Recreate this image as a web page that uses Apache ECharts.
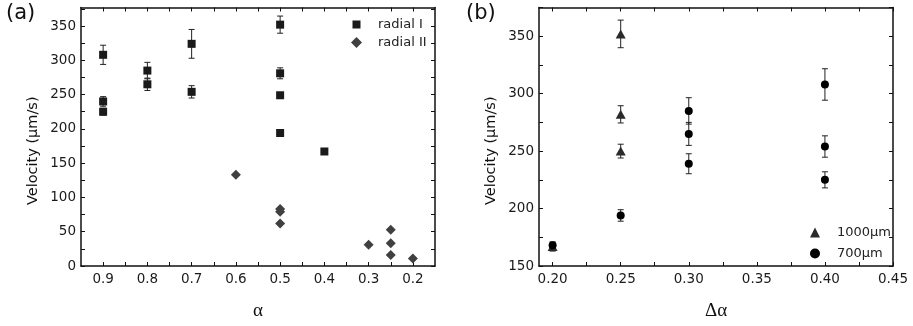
<!DOCTYPE html>
<html>
<head>
<meta charset="utf-8">
<script src="https://cdn.jsdelivr.net/npm/echarts@6/dist/echarts.min.js"></script>
<style>
  html, body { margin: 0; padding: 0; background: #fff; }
  #chart { width: 913px; height: 326px; }
</style>
</head>
<body>
<div id="chart"></div>
<script>
// panel (a): velocity vs alpha
const radialIAlpha = [0.9, 0.9, 0.9, 0.8, 0.8, 0.7, 0.7, 0.5, 0.5, 0.5, 0.5, 0.4];
const radialIVel = [308, 240, 225, 285, 265, 324, 254, 352, 281, 249, 194, 167];
const radialIErr = [14, 7, 5, 12, 9, 21, 9, 12.5, 8, 3, 2, 2];
const radialIIAlpha = [0.6, 0.5, 0.5, 0.5, 0.3, 0.25, 0.25, 0.25, 0.2];
const radialIIVel = [133, 83, 79, 62, 31, 53, 33, 16, 11];

// panel (b): velocity vs delta alpha
const d1000Delta = [0.2, 0.25, 0.25, 0.25];
const d1000Vel = [167, 352, 282, 250];
const d1000Err = [4, 12, 7.5, 6];
const d700Delta = [0.2, 0.25, 0.3, 0.3, 0.3, 0.4, 0.4, 0.4];
const d700Vel = [168, 194, 285, 265, 239, 308, 254, 225];
const d700Err = [2, 5, 11.5, 10, 8.7, 13.7, 9.3, 7];

// ticks and labels
const aXLabels = [0.9, 0.8, 0.7, 0.6, 0.5, 0.4, 0.3, 0.2];
const aXTicks = [0.9, 0.85, 0.8, 0.75, 0.7, 0.65, 0.6, 0.55, 0.5, 0.45, 0.4, 0.35, 0.3, 0.25, 0.2];
const aYLabels = [0, 50, 100, 150, 200, 250, 300, 350];
const aYTicks = [0, 25, 50, 75, 100, 125, 150, 175, 200, 225, 250, 275, 300, 325, 350, 375];
const bXLabels = [0.2, 0.25, 0.3, 0.35, 0.4, 0.45];
const bXTicks = [0.2, 0.225, 0.25, 0.275, 0.3, 0.325, 0.35, 0.375, 0.4, 0.425, 0.45];
const bYLabels = [150, 200, 250, 300, 350];
const bYTicks = [150, 175, 200, 225, 250, 275, 300, 325, 350, 375];

const font = 'DejaVu Sans';
const ink = '#111';
// legend square drawn a bit smaller than its 11px box, like the diamond next to it
const smallSquare = 'path://M0,0M11,11M1.5,1.5L9.5,1.5L9.5,9.5L1.5,9.5Z';

function errData(xs, ys, es) {
    return ys.map((y, i) => [xs[i], y - es[i], y + es[i]]);
}

function renderErrorBar(params, api) {
    const x = api.value(0);
    const top = api.coord([x, api.value(2)]);
    const bot = api.coord([x, api.value(1)]);
    const half = 3;
    const style = { stroke: '#222', lineWidth: 1 };
    return {
        type: 'group',
        children: [
            { type: 'line', shape: { x1: top[0], y1: top[1], x2: bot[0], y2: bot[1] }, style },
            { type: 'line', shape: { x1: top[0] - half, y1: top[1], x2: top[0] + half, y2: top[1] }, style },
            { type: 'line', shape: { x1: bot[0] - half, y1: bot[1], x2: bot[0] + half, y2: bot[1] }, style },
        ],
    };
}

function xAxis(gridIndex, min, max, ticks, labels, digits, inverse, name, mirror) {
    return {
        type: 'value',
        gridIndex,
        position: mirror ? 'top' : 'bottom',
        min,
        max,
        inverse,
        name: mirror ? '' : name,
        nameLocation: 'middle',
        nameGap: 36,
        nameTextStyle: { fontFamily: 'Liberation Serif', fontSize: 19, color: ink },
        splitLine: { show: false },
        axisLine: { show: true, onZero: false, lineStyle: { color: ink, width: 1.5 } },
        axisTick: { show: true, inside: true, length: 4, customValues: ticks, lineStyle: { color: ink } },
        axisLabel: {
            show: !mirror,
            customValues: labels,
            margin: 6,
            fontFamily: font,
            fontSize: 13.5,
            color: '#1a1a1a',
            formatter: (v) => v.toFixed(digits),
        },
    };
}

function yAxis(gridIndex, min, max, ticks, labels, mirror) {
    return {
        type: 'value',
        gridIndex,
        position: mirror ? 'right' : 'left',
        min,
        max,
        name: mirror ? '' : 'Velocity (\u03bcm/s)',
        nameLocation: 'middle',
        nameGap: 40,
        nameTextStyle: { fontFamily: font, fontSize: 14.5, color: ink, padding: [0, 28, 0, 0] },
        splitLine: { show: false },
        axisLine: { show: true, onZero: false, lineStyle: { color: ink, width: 1.5 } },
        axisTick: { show: true, inside: true, length: 4, customValues: ticks, lineStyle: { color: ink } },
        axisLabel: {
            show: !mirror,
            customValues: labels,
            margin: 5,
            fontFamily: font,
            fontSize: 13.5,
            color: '#1a1a1a',
        },
    };
}

const chart = echarts.init(document.getElementById('chart'));

chart.setOption({
    animation: false,
    backgroundColor: '#fff',
    grid: [
        { left: 81, top: 7.5, width: 354, height: 264 },
        { left: 539, top: 7.5, width: 354, height: 264 },
    ],
    graphic: [
        { type: 'text', left: 6, top: 3, style: { text: '(a)', fontFamily: font, fontSize: 21, fill: ink } },
        { type: 'text', left: 466, top: 3, style: { text: '(b)', fontFamily: font, fontSize: 21, fill: ink } },
    ],
    legend: [
        {
            left: 351,
            top: 18,
            orient: 'vertical',
            padding: 0,
            itemGap: 5,
            itemWidth: 11,
            itemHeight: 11,
            textStyle: { fontFamily: font, fontSize: 13, color: '#222', padding: [0, 0, 0, 11] },
            data: [
                { name: 'radial I', icon: smallSquare },
                { name: 'radial II', icon: 'diamond' },
            ],
        },
        {
            left: 810,
            top: 226,
            orient: 'vertical',
            padding: 0,
            itemGap: 8,
            itemWidth: 10,
            itemHeight: 10,
            textStyle: { fontFamily: font, fontSize: 13, color: '#222', padding: [0, 0, 0, 12] },
            data: [
                { name: '1000\u03bcm', icon: 'triangle' },
                { name: '700\u03bcm', icon: 'circle' },
            ],
        },
    ],
    xAxis: [
        xAxis(0, 0.15, 0.95, aXTicks, aXLabels, 1, true, '\u03b1', false),
        xAxis(0, 0.15, 0.95, aXTicks, aXLabels, 1, true, '', true),
        xAxis(1, 0.19, 0.45, bXTicks, bXLabels, 2, false, '\u0394\u03b1', false),
        xAxis(1, 0.19, 0.45, bXTicks, bXLabels, 2, false, '', true),
    ],
    yAxis: [
        yAxis(0, 0, 377, aYTicks, aYLabels, false),
        yAxis(0, 0, 377, aYTicks, aYLabels, true),
        yAxis(1, 150, 375, bYTicks, bYLabels, false),
        yAxis(1, 150, 375, bYTicks, bYLabels, true),
    ],
    series: [
        {
            name: 'errA',
            type: 'custom',
            xAxisIndex: 0,
            yAxisIndex: 0,
            renderItem: renderErrorBar,
            encode: { x: 0, y: [1, 2] },
            data: errData(radialIAlpha, radialIVel, radialIErr),
            z: 1,
        },
        {
            name: 'radial I',
            type: 'scatter',
            xAxisIndex: 0,
            yAxisIndex: 0,
            symbol: 'rect',
            symbolSize: 8,
            itemStyle: { color: '#1a1a1a', opacity: 1 },
            data: radialIAlpha.map((a, i) => [a, radialIVel[i]]),
            z: 3,
        },
        {
            name: 'radial II',
            type: 'scatter',
            xAxisIndex: 0,
            yAxisIndex: 0,
            symbol: 'diamond',
            symbolSize: 10,
            itemStyle: { color: '#404040', opacity: 1 },
            data: radialIIAlpha.map((a, i) => [a, radialIIVel[i]]),
            z: 3,
        },
        {
            name: 'errB1000',
            type: 'custom',
            xAxisIndex: 2,
            yAxisIndex: 2,
            renderItem: renderErrorBar,
            encode: { x: 0, y: [1, 2] },
            data: errData(d1000Delta, d1000Vel, d1000Err),
            z: 1,
        },
        {
            name: 'errB700',
            type: 'custom',
            xAxisIndex: 2,
            yAxisIndex: 2,
            renderItem: renderErrorBar,
            encode: { x: 0, y: [1, 2] },
            data: errData(d700Delta, d700Vel, d700Err),
            z: 1,
        },
        {
            name: '1000\u03bcm',
            type: 'scatter',
            xAxisIndex: 2,
            yAxisIndex: 2,
            symbol: 'triangle',
            symbolSize: [10, 9],
            itemStyle: { color: '#2a2a2a', opacity: 1 },
            data: d1000Delta.map((d, i) => [d, d1000Vel[i]]),
            z: 3,
        },
        {
            name: '700\u03bcm',
            type: 'scatter',
            xAxisIndex: 2,
            yAxisIndex: 2,
            symbol: 'circle',
            symbolSize: 8,
            itemStyle: { color: '#000', opacity: 1 },
            data: d700Delta.map((d, i) => [d, d700Vel[i]]),
            z: 3,
        },
    ],
});
</script>
</body>
</html>
